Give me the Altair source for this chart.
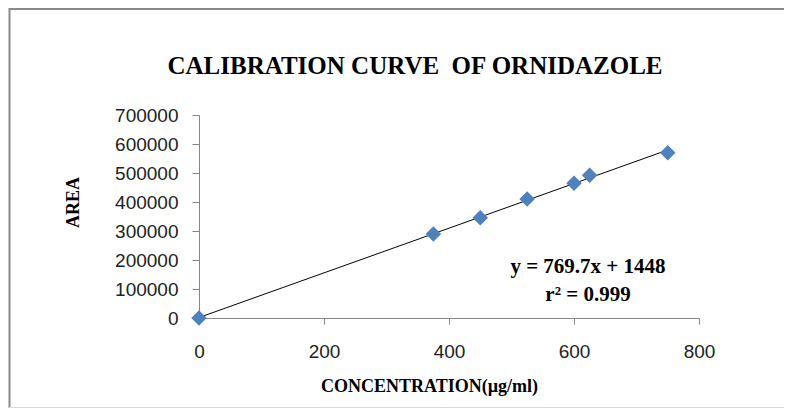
import altair as alt
import pandas as pd

# Data
concentration = [0, 375, 450, 525, 600, 625, 750]
area = [0, 289700, 345900, 410300, 464500, 492100, 570000]

title_text = "CALIBRATION CURVE\u00a0\u00a0OF ORNIDAZOLE"
x_title = "CONCENTRATION(µg/ml)"
y_title = "AREA"
equation_lines = ["y = 769.7x + 1448", "r² = 0.999"]
x_ticks = [0, 200, 400, 600, 800]
y_ticks = [0, 100000, 200000, 300000, 400000, 500000, 600000, 700000]

df = pd.DataFrame({"conc": concentration, "area": area})
one = pd.DataFrame({"k": [0]})

x_enc = alt.X("conc:Q", scale=alt.Scale(domain=[0, 800], nice=False),
              axis=alt.Axis(values=x_ticks, title=x_title,
                            grid=False, tickSize=6, labelPadding=18,
                            titleX=230, titleY=68, titleAlign="center",
                            titleBaseline="middle", labelOverlap=False,
                            labelFlush=False))
y_enc = alt.Y("area:Q", scale=alt.Scale(domain=[0, 700000], nice=False),
              axis=alt.Axis(values=y_ticks,
                            title=y_title, grid=False, tickSize=7, labelPadding=14,
                            format="d", titleX=-126, titleY=87, titleAlign="center",
                            titleBaseline="middle", labelOverlap=False,
                            labelFlush=False))

base = alt.Chart(df)
single = alt.Chart(one)

points = base.mark_point(shape="diamond", filled=True, size=240, color="#4F81BD",
                         opacity=1).encode(x=x_enc, y=y_enc)

line = base.transform_regression("conc", "area").mark_line(
    color="#000000", strokeWidth=1).encode(x=x_enc, y=y_enc)

ann = single.mark_text(font="Liberation Serif", fontWeight="bold", fontSize=21,
                       align="center", baseline="middle", lineHeight=28,
                       color="#000000").encode(
    x=alt.value(389), y=alt.value(152),
    text=alt.value(equation_lines))

title = single.mark_text(font="Liberation Serif", fontWeight="bold", fontSize=25,
                         align="center", baseline="middle", color="#000000").encode(
    x=alt.value(216), y=alt.value(-49), text=alt.value(title_text))

frame_left = single.mark_rule(color="#8a8a8a", strokeWidth=2).encode(
    x=alt.value(-189.5), y=alt.value(-107), y2=alt.value(293))
frame_top = single.mark_rule(color="#8a8a8a", strokeWidth=2).encode(
    x=alt.value(-190), x2=alt.value(585), y=alt.value(-106))
frame_bottom = single.mark_rule(color="#d9d9d9", strokeWidth=1).encode(
    x=alt.value(-190), x2=alt.value(585), y=alt.value(292.5))

chart = alt.layer(frame_left, frame_top, frame_bottom, title, line, points, ann).properties(
    width=500, height=203,
    autosize=alt.AutoSizeParams(type="none"),
    padding={"left": 191, "top": 107, "right": 85, "bottom": 90},
    background="#ffffff",
).configure_view(stroke=None).configure_axis(
    domainColor="#868686", tickColor="#868686",
    labelFont="Liberation Sans", labelFontSize=19, labelColor="#222222",
    titleFont="Liberation Serif", titleFontWeight="bold", titleFontSize=18,
    titleColor="#000000",
)

chart.save("out.html", embed_options={"renderer": "svg", "actions": False})
